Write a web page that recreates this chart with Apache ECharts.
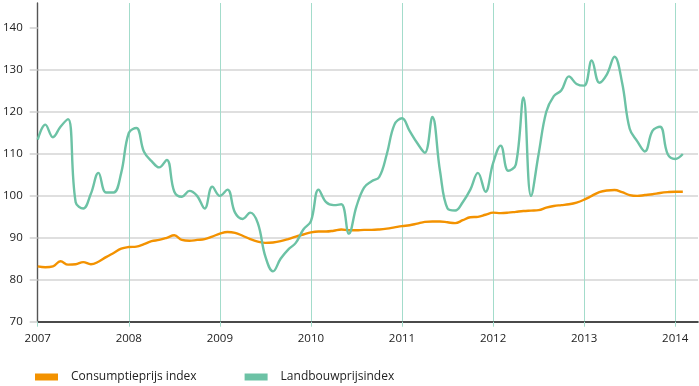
<!DOCTYPE html>
<html>
<head>
<meta charset="utf-8">
<script src="https://cdn.jsdelivr.net/npm/echarts@6/dist/echarts.min.js"></script>
<style>html,body{margin:0;padding:0;background:#fff;}#c{width:699px;height:386px;}</style>
</head>
<body>
<div id="c"></div>
<script>
// Monthly categories Jan 2007 .. Apr 2014 (axis runs slightly past last data point)
const months = [];
for (let y = 2007; y <= 2014; y++) {
  for (let m = 1; m <= 12; m++) {
    if (y === 2014 && m > 4) break;
    months.push(y + '-' + (m < 10 ? '0' + m : m));
  }
}
const yTicks = [70, 80, 90, 100, 110, 120, 130, 140];
const seriesNames = ['Consumptieprijs index', 'Landbouwprijsindex'];

const consumptie = [
  83.2, 83.0, 83.2, 84.4, 83.6, 83.7, 84.2, 83.7, 84.3, 85.4, 86.4, 87.4,
  87.8, 87.9, 88.5, 89.2, 89.5, 90.0, 90.6, 89.5, 89.3, 89.5, 89.7, 90.3,
  91.0, 91.4, 91.2, 90.5, 89.7, 89.1, 88.8, 88.9, 89.2, 89.7, 90.3, 90.8,
  91.3, 91.5, 91.5, 91.7, 92.0, 91.8, 91.8, 91.9, 91.9, 92.0, 92.2, 92.5,
  92.8, 93.0, 93.4, 93.8, 93.9, 93.9, 93.7, 93.5, 94.2, 94.9, 95.0, 95.5,
  96.0, 95.9, 96.0, 96.2, 96.4, 96.5, 96.6, 97.2, 97.6, 97.8, 98.0, 98.4,
  99.1, 100.0, 100.9, 101.3, 101.4, 100.9, 100.2, 100.0, 100.2, 100.4, 100.7, 100.9,
  101.0, 101.0
];
const landbouw = [
  113.4, 117.0, 114.0, 116.5, 118.3, 98.5, 97.0, 100.5, 105.5, 100.8, 100.8, 105.5,
  115.0, 116.2, 110.5, 108.3, 106.8, 108.6, 101.0, 99.8, 101.2, 100.0, 97.0, 102.2,
  100.0, 101.5, 96.0, 94.5, 96.0, 93.5, 85.5, 82.0, 85.0, 87.2, 88.8, 92.0,
  94.0, 101.5, 98.5, 97.8, 98.0, 91.0, 97.5, 102.0, 103.5, 104.5, 110.0, 117.0,
  118.5, 115.5, 112.6, 110.3, 118.8, 106.0, 97.0, 96.5, 98.5, 101.5, 105.5, 101.0,
  107.8, 112.0, 106.0, 107.5, 123.5, 100.0, 110.0, 120.0, 123.8, 125.2, 128.5, 126.7,
  126.3, 132.3, 127.0, 129.0, 133.2, 127.0, 116.0, 113.0, 110.6, 115.5, 116.5, 110.0,
  108.8, 110.0
];

const FONT = '"Open Sans", sans-serif';
const chart = echarts.init(document.getElementById('c'), null, {renderer: 'canvas'});
chart.setOption({
  animation: false,
  backgroundColor: '#fff',
  textStyle: {fontFamily: FONT},
  grid: {left: 36, right: 1, top: 3, bottom: 64.3, containLabel: false},
  legend: {
    data: seriesNames,
    left: 35, top: 371, padding: 0,
    icon: 'rect', itemWidth: 23, itemHeight: 7, itemGap: 48,
    textStyle: {fontFamily: FONT, fontSize: 12, color: '#222', padding: [0, 0, 0, 8]}
  },
  xAxis: {
    type: 'category',
    data: months,
    boundaryGap: false,
    axisLine: {show: true, lineStyle: {color: '#1a1a1a', width: 1.6}},
    axisTick: {show: true, interval: 11, length: 5, lineStyle: {color: '#a3dccb', width: 1}},
    splitLine: {show: true, interval: 11, lineStyle: {color: '#a3dccb', width: 1}},
    axisLabel: {
      interval: 11, margin: 11, fontSize: 11.5, color: '#222', fontFamily: FONT,
      formatter: v => v.slice(0, 4)
    }
  },
  yAxis: {
    type: 'value',
    min: 70, max: 146, interval: 10,
    axisLine: {show: true, lineStyle: {color: '#555', width: 1.4}},
    axisTick: {show: true, length: 8, customValues: yTicks, lineStyle: {color: '#cfcfcf', width: 1.5}},
    splitLine: {show: true, showMaxLine: false, lineStyle: {color: '#d4d4d4', width: 1.5}},
    axisLabel: {margin: 15, fontSize: 11.5, color: '#222', fontFamily: FONT, customValues: yTicks}
  },
  series: [
    {
      name: seriesNames[0], type: 'line', data: consumptie,
      smooth: 0.4, symbol: 'none',
      lineStyle: {color: '#f39200', width: 2.4}, itemStyle: {color: '#f39200'}
    },
    {
      name: seriesNames[1], type: 'line', data: landbouw,
      smooth: 0.4, symbol: 'none',
      lineStyle: {color: '#6cc2a5', width: 2.4}, itemStyle: {color: '#6cc2a5'}
    }
  ]
});
</script>
</body>
</html>
